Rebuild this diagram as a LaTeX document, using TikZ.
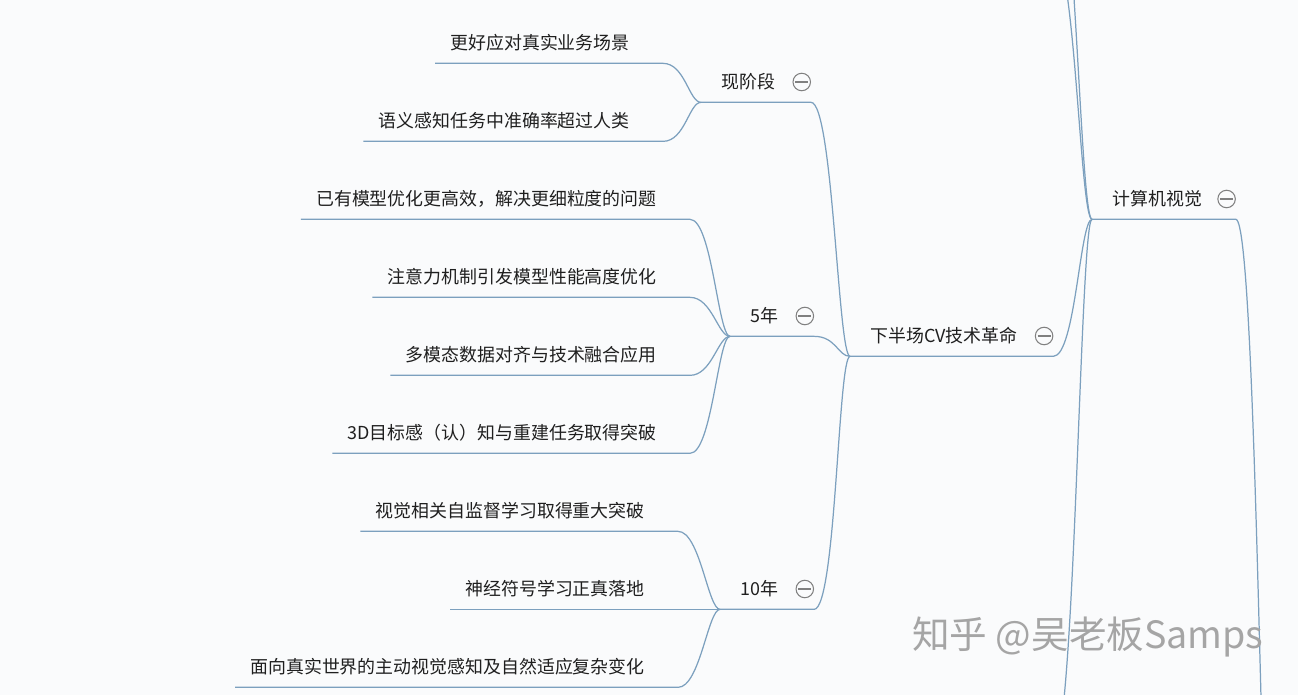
\documentclass[tikz,border=0pt]{standalone}
\usepackage{fontspec}
\setmainfont{Noto Sans CJK SC}
\usepackage{xcolor}
\usetikzlibrary{positioning}

\definecolor{bgcol}{RGB}{250,251,252}
\definecolor{linkcol}{RGB}{124,160,190}
\definecolor{foldcol}{RGB}{128,128,128}
\definecolor{wmcol}{RGB}{165,165,165}

\begin{document}
\begin{tikzpicture}[
  x=0.02cm, y=-0.02cm,
  leaf/.style={inner xsep=0.3cm, inner ysep=0pt, minimum height=0.8cm,
               anchor=east, font=\fontsize{10.2}{12}\selectfont, text=black!88},
  topic/.style={inner xsep=0.4cm, inner ysep=0pt, minimum height=0.8cm,
                anchor=west, font=\fontsize{10.2}{12}\selectfont, text=black!88},
  fold/.style={circle, draw=foldcol, line width=0.6pt, minimum size=0.35cm,
               inner sep=0pt,
               path picture={\draw[foldcol, line width=0.6pt]
                 ([xshift=-0.13cm]path picture bounding box.center) --
                 ([xshift=0.13cm]path picture bounding box.center);}},
  link/.style={draw=linkcol, line width=0.7pt},
  wmark/.style={font=\fontsize{21.4}{25}\selectfont, text=wmcol}
]

\useasboundingbox (0,0) rectangle (1298,695);
\fill[bgcol] (0,0) rectangle (1298,695);
\clip (0,0) rectangle (1298,695);

% Main topics
\node[topic] (cv) at (1092,199) {计算机视觉};
\node[fold, right=-0.1cm of cv] (cvf) {};
\node[topic] (half) at (850,336) {下半场CV技术革命};
\node[fold, right=-0.06cm of half] (halff) {};

% Sub topics
\node[topic] (now) at (701,82) {现阶段};
\node[fold, right=-0.06cm of now] (nowf) {};
\node[topic] (y5) at (730,316) {5年};
\node[fold, right=-0.06cm of y5] (y5f) {};
\node[topic] (y10) at (720,589) {10年};
\node[fold, right=-0.06cm of y10] (y10f) {};

% Leaves of now
\node[leaf] (n1) at (645,43) {更好应对真实业务场景};
\node[leaf] (n2) at (645,121) {语义感知任务中准确率超过人类};

% Leaves of y5
\node[leaf] (f1) at (672,199) {已有模型优化更高效，解决更细粒度的问题};
\node[leaf] (f2) at (672,277) {注意力机制引发模型性能高度优化};
\node[leaf] (f3) at (672,355) {多模态数据对齐与技术融合应用};
\node[leaf] (f4) at (672,433) {3D目标感（认）知与重建任务取得突破};

% Leaves of y10
\node[leaf] (t1) at (660,511) {视觉相关自监督学习取得重大突破};
\node[leaf] (t2) at (660,589) {神经符号学习正真落地};
\node[leaf] (t3) at (660,667) {面向真实世界的主动视觉感知及自然适应复杂变化};

% Branches outside the view
\coordinate (up1) at (1053,-50);
\coordinate (up2) at (1053,-150);
\coordinate (dn1) at (1053,750);
\coordinate (root) at (1274,1000);

% Leaf links
\draw[link] (n1.south west) -- ([shift={(18,0)}]n1.south east) .. controls +(22,0) and +(-12,0) .. (now.south west);
\draw[link] (n2.south west) -- ([shift={(18,0)}]n2.south east) .. controls +(22,0) and +(-12,0) .. (now.south west);
\draw[link] (f1.south west) -- ([shift={(18,0)}]f1.south east) .. controls +(22,0) and +(-12,0) .. (y5.south west);
\draw[link] (f2.south west) -- ([shift={(18,0)}]f2.south east) .. controls +(22,0) and +(-12,0) .. (y5.south west);
\draw[link] (f3.south west) -- ([shift={(18,0)}]f3.south east) .. controls +(22,0) and +(-12,0) .. (y5.south west);
\draw[link] (f4.south west) -- ([shift={(18,0)}]f4.south east) .. controls +(22,0) and +(-12,0) .. (y5.south west);
\draw[link] (t1.south west) -- ([shift={(18,0)}]t1.south east) .. controls +(22,0) and +(-12,0) .. (y10.south west);
\draw[link] (t2.south west) -- (y10.south west);
\draw[link] (t3.south west) -- ([shift={(18,0)}]t3.south east) .. controls +(22,0) and +(-12,0) .. (y10.south west);

% Topic links
\draw[link] (now.south west) -- (now.south west -| nowf.east) .. controls +(22,0) and +(-12,0) .. (half.south west);
\draw[link] (y5.south west) -- (y5.south west -| y5f.east) .. controls +(22,0) and +(-12,0) .. (half.south west);
\draw[link] (y10.south west) -- (y10.south west -| y10f.east) .. controls +(22,0) and +(-12,0) .. (half.south west);
\draw[link] (half.south west) -- (half.south west -| halff.east) .. controls +(22,0) and +(-12,0) .. (cv.south west);
\draw[link] (up1) .. controls +(22,0) and +(-12,0) .. (cv.south west);
\draw[link] (up2) .. controls +(22,0) and +(-12,0) .. (cv.south west);
\draw[link] (dn1) .. controls +(22,0) and +(-12,0) .. (cv.south west);
\draw[link] (cv.south west) -- (cv.south west -| cvf.east) .. controls +(22,0) and +(-12,0) .. (root);

% Watermark
\node[wmark, anchor=west] (wm) at (906,637) {知乎 @吴老板Samps};

\end{tikzpicture}
\end{document}
